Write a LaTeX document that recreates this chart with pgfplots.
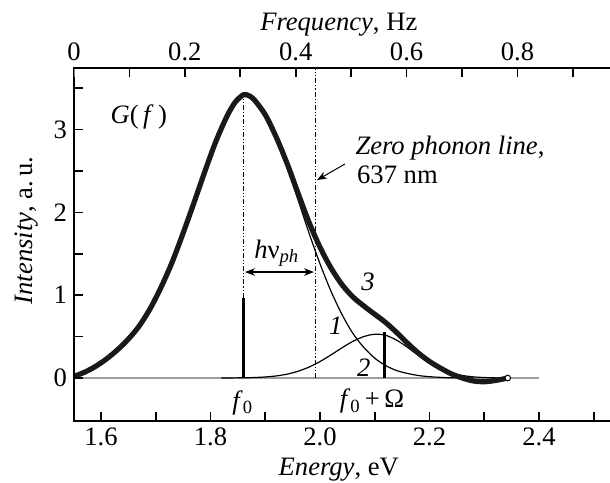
\documentclass[border=0pt]{standalone}
\usepackage{fontspec}
\setmainfont{Liberation Serif}
\usepackage{pgfplots}
\usepackage{pgfplotstable}
\pgfplotsset{compat=1.18}
\usetikzlibrary{arrows.meta}

% curve 3 (total, thick)
\pgfplotstableread{
E I
1.551 0.02
1.57 0.07
1.59 0.14
1.61 0.23
1.63 0.34
1.65 0.47
1.67 0.63
1.69 0.84
1.71 1.10
1.73 1.40
1.75 1.75
1.77 2.12
1.79 2.50
1.81 2.86
1.83 3.16
1.845 3.33
1.86 3.42
1.87 3.41
1.88 3.36
1.90 3.18
1.92 2.91
1.94 2.59
1.96 2.23
1.98 1.88
2.00 1.58
2.02 1.33
2.04 1.13
2.06 0.98
2.08 0.87
2.10 0.77
2.12 0.67
2.14 0.55
2.16 0.42
2.18 0.30
2.20 0.20
2.22 0.12
2.24 0.05
2.26 0.00
2.28 -0.035
2.30 -0.045
2.32 -0.03
2.343 0.0
}\curvethree

% curve 1
\pgfplotstableread{
E I
1.551 0.02
1.57 0.07
1.59 0.14
1.61 0.23
1.63 0.34
1.65 0.47
1.67 0.63
1.69 0.84
1.71 1.10
1.73 1.40
1.75 1.75
1.77 2.12
1.79 2.50
1.81 2.86
1.83 3.16
1.845 3.33
1.86 3.42
1.87 3.40
1.88 3.35
1.90 3.17
1.92 2.89
1.94 2.54
1.96 2.15
1.98 1.75
2.00 1.38
2.02 1.05
2.04 0.77
2.06 0.54
2.08 0.37
2.10 0.24
2.12 0.15
2.14 0.09
2.16 0.055
2.18 0.03
2.20 0.016
2.22 0.008
2.24 0.003
2.28 0.0
}\curveone

% curve 2
\pgfplotstableread{
E I
1.82 0.0
1.86 0.003
1.88 0.006
1.90 0.013
1.92 0.025
1.94 0.047
1.96 0.082
1.98 0.132
2.00 0.199
2.02 0.279
2.04 0.364
2.06 0.443
2.08 0.501
2.09 0.519
2.105 0.53
2.12 0.516
2.14 0.458
2.16 0.370
2.18 0.272
2.20 0.182
2.22 0.111
2.24 0.061
2.26 0.031
2.28 0.014
2.30 0.006
2.32 0.002
2.34 0.0
}\curvetwo

\tikzset{
  dd/.style={line width=0.5pt, dash pattern=on 2.5pt off 1pt on 0.6pt off 1pt on 0.6pt off 1pt},
  tk/.style={black, line width=0.8pt},
}

\begin{document}
\begin{tikzpicture}[font=\fontsize{13.3}{15}\selectfont]
\begin{axis}[
  width=268pt, height=176.5pt, scale only axis,
  ymin=-0.519, ymax=3.744,
  xmin=1.5507, xmax=2.5297,
  clip=false,
  axis line style={draw=none},
  xtick pos=bottom, ytick pos=left,
  tick align=inside,
  xtick={1.6,1.8,2.0,2.2,2.4},
  ytick={0,1,2,3},
  xticklabel style={/pgf/number format/.cd, fixed, fixed zerofill, precision=1, assume math mode=true},
  yticklabel style={/pgf/number format/assume math mode=true},
  xlabel={\textit{Energy}, eV},
  xlabel style={at={(axis description cs:0.494,-0.137)}, anchor=center},
  ylabel={\textit{Intensity}, a.\,u.},
  ylabel style={at={(axis description cs:-0.0877,0.54)}, anchor=center},
]
% baseline
\addplot[gray!75, line width=0.8pt] coordinates {(1.5507,0) (2.40,0)};
% dash-dot lines
\addplot[black, dd] coordinates {(1.861,0.97) (1.861,3.40)};
\addplot[black, dd] coordinates {(1.991,0) (1.991,3.744)};
% curves
\addplot[black, line width=0.6pt, smooth] table[x=E, y=I] {\curveone};
\addplot[black, line width=0.6pt, smooth] table[x=E, y=I] {\curvetwo};
\addplot[black!90, line width=2.6pt, smooth] table[x=E, y=I] {\curvethree};
\addplot[only marks, mark=*, mark size=1.4pt, mark options={fill=white, draw=black, line width=0.5pt}] coordinates {(2.343,0.0)};
% bars
\addplot[black, line width=1.5pt] coordinates {(1.861,0) (1.861,0.97)};
\addplot[black, line width=1.5pt] coordinates {(2.117,0) (2.117,0.55)};
% spines and inward ticks (the right side is cut off in the reference)
\draw[line width=1pt, line cap=rect] (axis cs:1.5507,3.744) -- (axis cs:1.5507,-0.519) -- (axis cs:2.5297,-0.519);
\pgfplotsinvokeforeach{1.6,1.7,1.8,1.9,2.0,2.1,2.2,2.3,2.4,2.5}{
  \draw[tk] (axis cs:#1,-0.519) -- (axis cs:#1,-0.4103);
}
\pgfplotsinvokeforeach{0,0.5,1,1.5,2,2.5,3,3.5}{
  \draw[tk] (axis cs:1.5507,#1) -- (axis cs:1.5671,#1);
}
% annotations
\draw[{Stealth[length=5pt]}-{Stealth[length=5pt]}, line width=0.6pt] (axis cs:1.863,1.28) -- (axis cs:1.989,1.28);
\draw[-{Stealth[length=5pt]}, line width=0.5pt] (axis cs:2.0457,2.585) -- (axis cs:1.9945,2.39);
\node at (axis cs:1.669,3.156) {\textit{G}(\,\textit{f}\,)};
\node[anchor=west] at (axis cs:2.052,2.78) {\textit{Zero phonon line},};
\node[anchor=west] at (axis cs:2.055,2.45) {637 nm};
\node at (axis cs:1.921,1.51) {\textit{h}ν\textsubscript{\textit{ph}}};
\node at (axis cs:2.0877,1.16) {\textit{3}};
\node at (axis cs:2.029,0.63) {\textit{1}};
\node at (axis cs:2.080,0.12) {\textit{2}};
\node at (axis cs:1.859,-0.30) {\textit{f}\textsubscript{0}};
\node at (axis cs:2.095,-0.28) {\textit{f}\textsubscript{0}\,+\,Ω};
\end{axis}
\begin{axis}[
  width=268pt, height=176.5pt, scale only axis,
  ymin=-0.519, ymax=3.744,
  xmin=0, xmax=0.967,
  clip=false,
  axis line style={draw=none},
  xtick pos=top, ytick=\empty,
  xticklabel pos=top,
  tick align=inside,
  xtick={0,0.2,0.4,0.6,0.8},
  xticklabel style={/pgf/number format/assume math mode=true},
  xlabel={\textit{Frequency}, Hz},
  xlabel style={at={(axis description cs:0.494,1.122)}, anchor=center},
]
\draw[line width=1pt, line cap=rect] (axis cs:0,3.744) -- (axis cs:0.967,3.744);
\pgfplotsinvokeforeach{0.1,0.2,0.3,0.4,0.5,0.6,0.7,0.8,0.9}{
  \draw[tk] (axis cs:#1,3.744) -- (axis cs:#1,3.6353);
}
\end{axis}
\pgfresetboundingbox
\path[use as bounding box] ([xshift=-37pt,yshift=-30.5pt]current axis.south west) rectangle ([yshift=34pt]current axis.north east);
\end{tikzpicture}
\end{document}
